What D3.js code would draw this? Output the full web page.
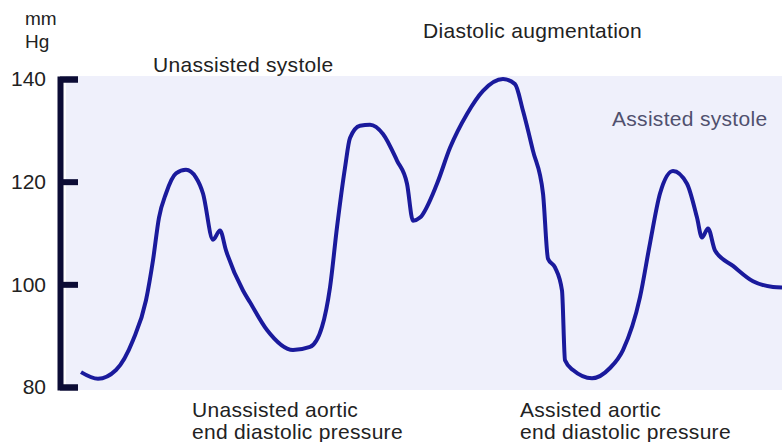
<!DOCTYPE html>
<html>
<head>
<meta charset="utf-8">
<script src="https://d3js.org/d3.v7.min.js"></script>
<style>
  body { margin: 0; background: #fff; }
  text { font-family: Arial, "Liberation Sans", sans-serif; }
</style>
</head>
<body>
<div id="chart"></div>
<script>
// time (arbitrary units, left edge of the trace area = 0)
var times = [15, 32, 50, 67, 80, 87, 93, 100, 110, 120, 130, 137, 147, 154, 160, 177, 184, 201,
  227, 244, 256, 264, 271, 279, 284, 294, 304, 317, 331, 341, 347, 354, 371, 384, 401, 417,
  437, 449, 457, 467, 477, 482, 489, 496, 499, 507, 526, 544, 557, 574, 584, 594, 607, 621,
  631, 636, 642, 649, 667, 687, 707, 716];
// aortic pressure, mmHg
var pressure = [82.9, 81.6, 83.3, 89.1, 96.9, 104.7, 113.0, 117.7, 121.6, 122.3, 120.8, 117.7, 108.7, 110.5, 106.6, 98.8, 96.5, 91.1,
  87.2, 87.8, 91.7, 99.4, 111.1, 122.7, 128.5, 130.9, 131.1, 129.3, 124.1, 119.6, 112.4, 113.0, 119.6, 126.6, 133.2, 137.7,
  140.0, 139.0, 133.8, 126.0, 117.7, 105.0, 103.3, 98.8, 85.2, 83.3, 81.7, 83.7, 87.2, 97.5, 108.0, 117.7, 122.1, 119.6,
  113.0, 109.1, 110.9, 106.6, 103.6, 100.6, 99.5, 99.4];
var yTicks = [80, 100, 120, 140];

var width = 782, height = 442;

var svg = d3.select("#chart").append("svg")
  .attr("width", width)
  .attr("height", height);

var x = d3.scaleLinear().domain([0, 716]).range([66, 782]);
var y = d3.scaleLinear().domain([80, 140]).range([387, 79]);

// shaded plot area
svg.append("rect")
  .attr("x", x(0))
  .attr("y", y(140) - 3)
  .attr("width", x(716) - x(0))
  .attr("height", y(80) - y(140) + 6)
  .attr("fill", "#eff0fb");

// bracket axis
var axisG = svg.append("g")
  .attr("transform", "translate(60,0)")
  .call(d3.axisRight(y).tickValues(yTicks).tickSize(18).tickSizeOuter(18).tickFormat(""));
axisG.selectAll("path, line")
  .attr("stroke", "#0c0c35")
  .attr("stroke-width", 6);

// tick labels
svg.append("g")
  .attr("transform", "translate(60,0)")
  .call(d3.axisLeft(y).tickValues(yTicks).tickSize(0).tickPadding(14))
  .call(function(g) { g.select(".domain").remove(); })
  .selectAll("text")
  .style("font-size", "21px")
  .attr("fill", "#222");

svg.append("text").attr("x", 25).attr("y", 25).style("font-size", "19px").attr("fill", "#222").text("mm");
svg.append("text").attr("x", 25).attr("y", 48).style("font-size", "19px").attr("fill", "#222").text("Hg");

// pressure trace
var line = d3.line()
  .x(function(d, i) { return x(times[i]); })
  .y(function(d) { return y(d); })
  .curve(d3.curveMonotoneX);

svg.append("path")
  .datum(pressure)
  .attr("d", line)
  .attr("fill", "none")
  .attr("stroke", "#1a1a9c")
  .attr("stroke-width", 4)
  .attr("stroke-linejoin", "round");

// annotations
var notes = [
  { text: "Unassisted systole", x: 153, y: 72, color: "#222" },
  { text: "Diastolic augmentation", x: 423, y: 38, color: "#222" },
  { text: "Assisted systole", x: 612, y: 126, color: "#50506e" },
  { text: "Unassisted aortic", x: 192, y: 417, color: "#222" },
  { text: "end diastolic pressure", x: 192, y: 439, color: "#222" },
  { text: "Assisted aortic", x: 520, y: 417, color: "#222" },
  { text: "end diastolic pressure", x: 520, y: 439, color: "#222" }
];
svg.selectAll("text.note")
  .data(notes)
  .enter().append("text")
  .attr("class", "note")
  .attr("x", function(d) { return d.x; })
  .attr("y", function(d) { return d.y; })
  .attr("fill", function(d) { return d.color; })
  .style("font-size", "21px")
  .style("letter-spacing", "0.3px")
  .text(function(d) { return d.text; });
</script>
</body>
</html>
